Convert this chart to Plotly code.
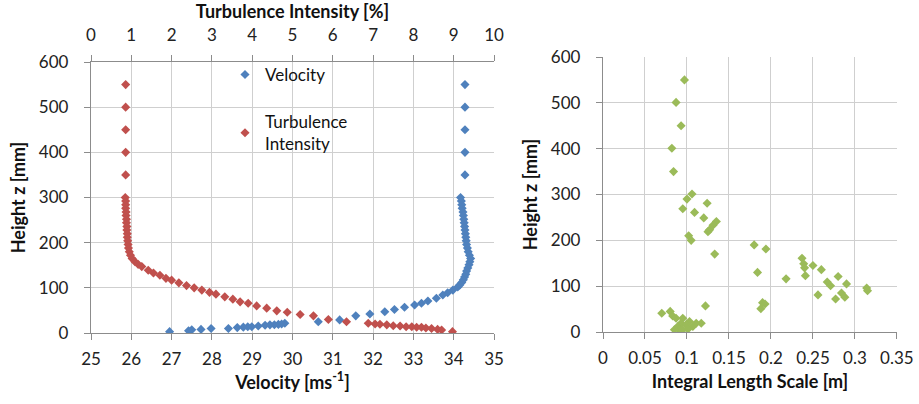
import plotly.graph_objects as go

# ---------------- data ----------------
vel_height = [550, 500, 450, 400, 350, 300, 292, 284, 276, 268, 260, 252, 244, 236,
              228, 220, 212, 204, 196, 188, 180, 172, 165, 158, 151, 144, 137, 130,
              124, 118, 112, 106, 102, 95, 89, 84, 77, 71, 66, 62, 57, 52, 47, 42,
              38, 29, 25, 21.5, 20, 19, 18.4, 18, 17, 15.5, 14, 14, 13, 12, 10, 10,
              8, 7, 5, 3]
velocity = [34.28, 34.28, 34.28, 34.28, 34.28, 34.17, 34.19, 34.20, 34.21, 34.23, 34.24,
            34.25, 34.26, 34.27, 34.28, 34.29, 34.30, 34.31, 34.32, 34.34, 34.36, 34.39,
            34.42, 34.40, 34.38, 34.35, 34.32, 34.30, 34.27, 34.24, 34.20, 34.15, 34.10,
            33.98, 33.85, 33.73, 33.57, 33.36, 33.20, 33.03, 32.78, 32.53, 32.29, 31.92,
            31.57, 31.17, 30.64, 29.81, 29.73, 29.65, 29.55, 29.44, 29.32, 29.15, 28.99,
            28.89, 28.78, 28.63, 28.41, 27.98, 27.73, 27.50, 27.42, 26.95]

ti_height = [550, 500, 450, 400, 350, 300, 292, 284, 276, 268, 260, 252, 244, 236, 228,
             220, 212, 204, 196, 188, 180, 172, 165, 158, 152, 147, 139, 133, 128, 121,
             117, 111, 105, 100, 95, 90, 86, 80, 75, 69, 66, 60, 55, 49, 46, 41, 38, 30,
             25, 21.5, 20, 19.5, 18, 16, 15.5, 14, 14, 12.6, 12.6, 11, 10, 8, 6.6, 3]
turb_intensity = [0.86, 0.86, 0.86, 0.86, 0.86, 0.85, 0.86, 0.86, 0.86, 0.87, 0.87, 0.88,
                  0.88, 0.89, 0.89, 0.90, 0.90, 0.91, 0.92, 0.93, 0.95, 0.98, 1.02, 1.09,
                  1.17, 1.26, 1.42, 1.55, 1.71, 1.86, 2.00, 2.18, 2.37, 2.56, 2.75, 2.94,
                  3.10, 3.32, 3.52, 3.70, 3.90, 4.11, 4.36, 4.61, 4.87, 5.19, 5.52, 5.89,
                  6.34, 6.88, 7.05, 7.17, 7.34, 7.50, 7.67, 7.82, 7.96, 8.08, 8.20, 8.31,
                  8.45, 8.60, 8.70, 8.97]

ils_height = [550, 501, 450, 401, 350, 301, 290, 281, 269, 261, 249, 241, 233, 219, 223,
              210, 200, 190, 181, 170, 161, 145, 149, 140, 136, 130, 123, 121, 116, 109,
              105, 101, 96, 90, 85, 81, 76, 72, 64, 61, 57, 51, 45, 41, 35, 30, 30, 23,
              19, 19, 19, 16, 12, 12, 6, 5, 5, 5]
integral_length = [0.097, 0.087, 0.093, 0.082, 0.084, 0.106, 0.100, 0.124, 0.095, 0.109,
                   0.120, 0.135, 0.131, 0.125, 0.127, 0.102, 0.105, 0.180, 0.194, 0.133,
                   0.237, 0.250, 0.239, 0.240, 0.260, 0.184, 0.241, 0.280, 0.218, 0.267,
                   0.290, 0.271, 0.314, 0.315, 0.284, 0.256, 0.288, 0.277, 0.190, 0.193,
                   0.122, 0.188, 0.080, 0.070, 0.083, 0.087, 0.095, 0.103, 0.093, 0.111,
                   0.117, 0.099, 0.089, 0.107, 0.101, 0.091, 0.085, 0.095]

# ---------------- style ----------------
FONT = "Lato"
AXIS_LINE = "#8c8c8c"
GRID = "#cfcfcf"
TICK_FONT = dict(family=FONT, size=17, color="#222222")
TITLE_FONT = dict(family=FONT, size=18, color="#111111")

W, H = 919, 404
def px_x(p):
    return p / W
def px_y(p):
    return 1 - p / H

fig = go.Figure()

fig.add_trace(go.Scatter(
    x=velocity, y=vel_height, mode="markers", name="Velocity",
    marker=dict(symbol="diamond", size=7, color="#4f81bd"),
    xaxis="x", yaxis="y", legendgroup="a"))
fig.add_trace(go.Scatter(
    x=turb_intensity, y=ti_height, mode="markers", name="Turbulence<br>Intensity",
    marker=dict(symbol="diamond", size=7, color="#c0504d"),
    xaxis="x3", yaxis="y", legendgroup="b"))
fig.add_trace(go.Scatter(
    x=integral_length, y=ils_height, mode="markers", name="Integral Length Scale",
    marker=dict(symbol="diamond", size=7, color="#9bbb59"),
    xaxis="x2", yaxis="y2", showlegend=False))

common_axis = dict(showline=True, linecolor=AXIS_LINE, linewidth=1.3, ticks="outside",
                   ticklen=6, tickcolor=AXIS_LINE, tickfont=TICK_FONT, zeroline=False,
                   gridcolor=GRID, gridwidth=1.3, mirror=False)

fig.update_layout(
    template="none",
    width=W, height=H, margin=dict(l=0, r=0, t=0, b=0),
    paper_bgcolor="white", plot_bgcolor="white",
    xaxis=dict(domain=[px_x(91), px_x(494)], range=[25, 35], dtick=1, anchor="y",
               showgrid=True,
               title=dict(text="<b>Velocity [ms<sup>-1</sup>]</b>", font=TITLE_FONT, standoff=8),
               ticklabelstandoff=4, **common_axis),
    xaxis3=dict(overlaying="x", side="top", anchor="y", range=[0, 10], dtick=1,
                showgrid=False,
                title=dict(text="<b>Turbulence Intensity [%]</b>", font=TITLE_FONT, standoff=8),
                ticklabelstandoff=7, **common_axis),
    yaxis=dict(domain=[px_y(333), px_y(62)], range=[0, 600], dtick=100, anchor="x",
               showgrid=True,
               title=dict(text="<b>Height z [mm]</b>", font=TITLE_FONT, standoff=8),
               ticklabelstandoff=12, **common_axis),
    xaxis2=dict(domain=[px_x(603), px_x(897)], range=[0, 0.3501], dtick=0.05, anchor="y2",
                showgrid=True, tickformat="~g",
                title=dict(text="<b>Integral Length Scale [m]</b>", font=TITLE_FONT, standoff=8),
                ticklabelstandoff=4, **common_axis),
    yaxis2=dict(domain=[px_y(332), px_y(57)], range=[0, 600], dtick=100, anchor="x2",
                showgrid=True,
                title=dict(text="<b>Height z [mm]</b>", font=TITLE_FONT, standoff=8),
                ticklabelstandoff=12, **common_axis),
    legend=dict(x=px_x(225), y=px_y(57), xanchor="left", yanchor="top",
                bgcolor="rgba(0,0,0,0)", font=dict(family=FONT, size=17, color="#111111"),
                tracegroupgap=22, traceorder="grouped"),
    shapes=[dict(type="rect", xref="paper", yref="paper", layer="between",
                 x0=px_x(243), x1=px_x(425), y0=px_y(155), y1=px_y(63),
                 fillcolor="white", line=dict(width=0))],
)

fig.write_html("out.html")
